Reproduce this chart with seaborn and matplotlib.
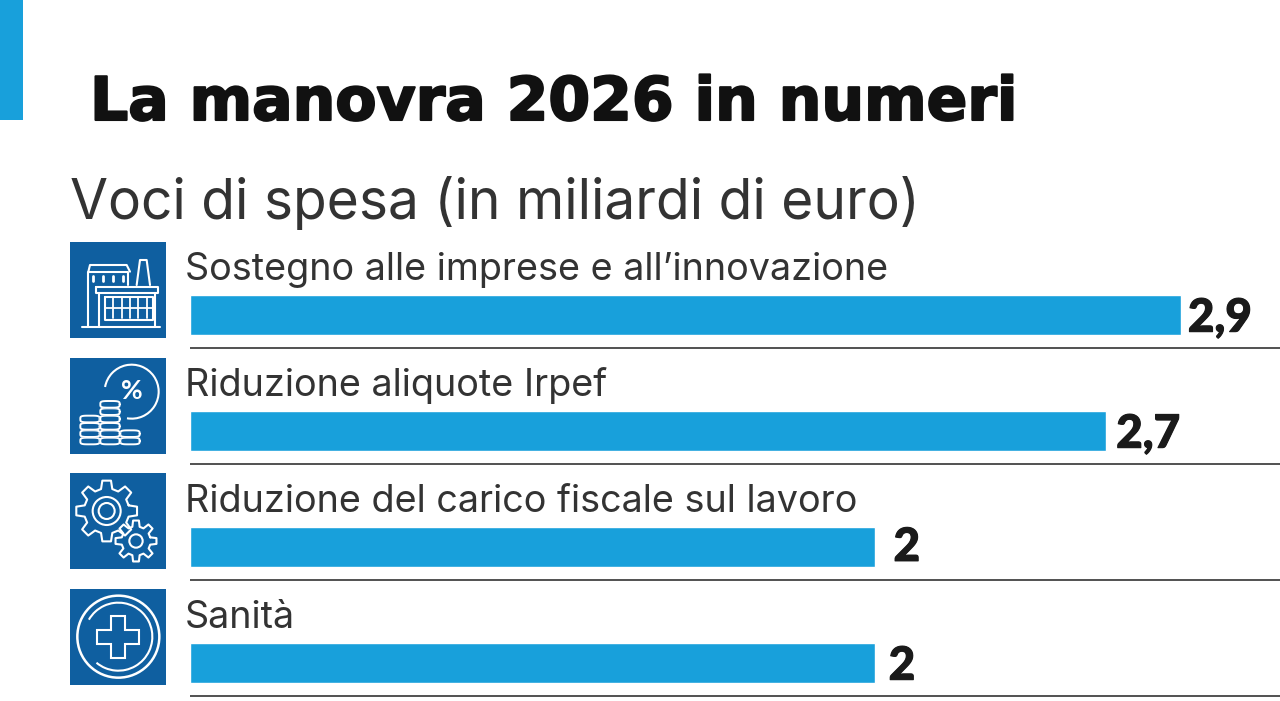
import numpy as np
import pandas as pd
import matplotlib
matplotlib.use("Agg")
import matplotlib.pyplot as plt
import matplotlib.patheffects as pe
from matplotlib.patches import Rectangle, Circle, Arc, Polygon
import seaborn as sns

TITLE = "La manovra 2026 in numeri"
SUBTITLE = "Voci di spesa (in miliardi di euro)"
categories = ["Sostegno alle imprese e all\u2019innovazione", "Riduzione aliquote Irpef",
              "Riduzione del carico fiscale sul lavoro", "Sanit\u00e0"]
values = [2.9, 2.68, 2.006, 2.006]
value_labels = ["2,9", "2,7", "2", "2"]

BAR = "#18A0DB"
ICON = "#0F5FA0"
INK = "#333333"

W, H = 1280, 701
sns.set_theme(style="white")
fig = plt.figure(figsize=(W/100, H/100), dpi=100, facecolor="white")

left, top = 190, 240
ax = fig.add_axes([left/W, 0, (W-left)/W, (H-top)/H])
df = pd.DataFrame({"cat": categories, "val": values})
sns.barplot(data=df, y="cat", x="val", orient="h", color=BAR, saturation=1, width=40/116, ax=ax)
ax.set_xlim(0, (W-left)/341.7)
ax.set_ylim(3+(H-663)/116, -(315-top)/116)
ax.axis("off")
gaps = [5, 7.5, 13, 9.5]
drops = [12, 12, 10, 12]
for i, (c, v, l) in enumerate(zip(categories, values, value_labels)):
    ax.plot([0, ax.get_xlim()[1]], [i+33/116]*2, color="#333333", lw=1.2, solid_capstyle="butt")
    ax.annotate(c, (0, i), xytext=(-3.6, 25), textcoords="offset points", ha="left", va="baseline",
                fontsize=27.2, family="Inter", color=INK, annotation_clip=False)
    ax.annotate(l, (v, i), xytext=(gaps[i], -drops[i]), textcoords="offset points", ha="left", va="baseline",
                fontsize=33, family="Lato", fontweight=900, color="#1a1a1a", annotation_clip=False,
                path_effects=[pe.withStroke(linewidth=0.8, foreground="#1a1a1a")])

ov = fig.add_axes([0, 0, 1, 1], facecolor="none")
ov.set_xlim(0, W); ov.set_ylim(H, 0); ov.axis("off")
ov.add_patch(Rectangle((0, 0), 23, 120, color=BAR, lw=0))
ov.text(90, 120, TITLE, fontsize=43.2, family="DejaVu Sans", fontweight="bold", color="#111111",
        va="baseline", path_effects=[pe.withStroke(linewidth=1.5, foreground="#111111")])
ov.text(70, 219, SUBTITLE, fontsize=39.7, family="Inter", color=INK, va="baseline")

LW = 1.5
def tile(y):
    ov.add_patch(Rectangle((70, y), 96, 96, color=ICON, lw=0))
def Z(ybase):
    return lambda pts: [(60+x/3, ybase+y/3) for x, y in pts]
def line(z, pts, lw=LW, closed=False):
    p = z(pts)
    if closed: p = p+[p[0]]
    ov.plot(*zip(*p), color="white", lw=lw, solid_capstyle="round", solid_joinstyle="round")

# factory
tile(242); z = Z(235)
line(z, [(65,275),(300,275)])
line(z, [(85,275),(85,110),(205,110),(205,150)])
line(z, [(85,110),(90,90),(200,90),(210,110)])
line(z, [(230,150),(240,75),(260,75),(270,150)])
line(z, [(108,155),(295,155),(295,175),(108,175)], closed=True)
line(z, [(118,175),(118,275)]); line(z, [(285,175),(285,275)])
line(z, [(135,185),(280,185),(280,255),(135,255)], closed=True)
for gx in range(160, 280, 25): line(z, [(gx,190),(gx,250)], lw=1.3)
line(z, [(138,220),(280,220)], lw=1.3)
for gx in (100,130,160,190): line(z, [(gx,122),(gx,138)], lw=2)

# percent and coins
tile(358); z = Z(235)
c = z([(215,470)])[0]
ov.add_patch(Arc(c, 54, 54, theta1=190, theta2=460, color="white", lw=LW))
ov.text(c[0], c[1]-1, "%", color="white", ha="center", va="center", fontsize=19, family="Lato", fontweight="bold")
def coins(cx, y0, n):
    for k in range(n):
        y = y0 - k*22
        t = np.linspace(0, 2*np.pi, 40)
        xs = cx + 29*np.sign(np.cos(t))*np.abs(np.cos(t))**.5
        ys = y + 10*np.sign(np.sin(t))*np.abs(np.sin(t))**.5
        ov.fill(60+xs/3, 235+ys/3, color=ICON, zorder=3+k)
        ov.plot(60+xs/3, 235+ys/3, color="white", lw=1.4, zorder=3+k)
coins(90, 618, 4); coins(210, 618, 2); coins(150, 618, 6)

# gears
tile(473); zg = Z(465)
def gear(cx, cy, R, r, teeth, rings):
    cpx, cpy = zg([(cx, cy)])[0]
    pts = []
    for k in range(teeth):
        a = 2*np.pi*k/teeth
        d = 2*np.pi/teeth
        for off, rad in ((-.32, r), (-.18, R), (.18, R), (.32, r)):
            pts.append((cpx+rad/3*np.cos(a+off*d), cpy+rad/3*np.sin(a+off*d)))
    pts.append(pts[0])
    ov.plot(*zip(*pts), color="white", lw=LW, solid_joinstyle="round")
    for rr in rings:
        ov.add_patch(Circle((cpx, cpy), rr/3, fill=False, ec="white", lw=LW))
gear(140, 138, 92, 68, 8, [42, 24])
gear(228, 228, 62, 44, 8, [20])

# medical cross
tile(589); z = Z(465)
c = z([(175,515)])[0]
ov.add_patch(Circle(c, 41, fill=False, ec="white", lw=LW+.3))
ov.add_patch(Arc(c, 68, 68, theta1=-150, theta2=130, color="white", lw=LW))
a, b = 21, 7
cross = [(-b,-a),(b,-a),(b,-b),(a,-b),(a,b),(b,b),(b,a),(-b,a),(-b,b),(-a,b),(-a,-b),(-b,-b)]
ov.add_patch(Polygon([(c[0]+x, c[1]+y) for x, y in cross], closed=True, fill=False, ec="white", lw=LW))

fig.savefig("out.png", dpi=100, facecolor="white")
